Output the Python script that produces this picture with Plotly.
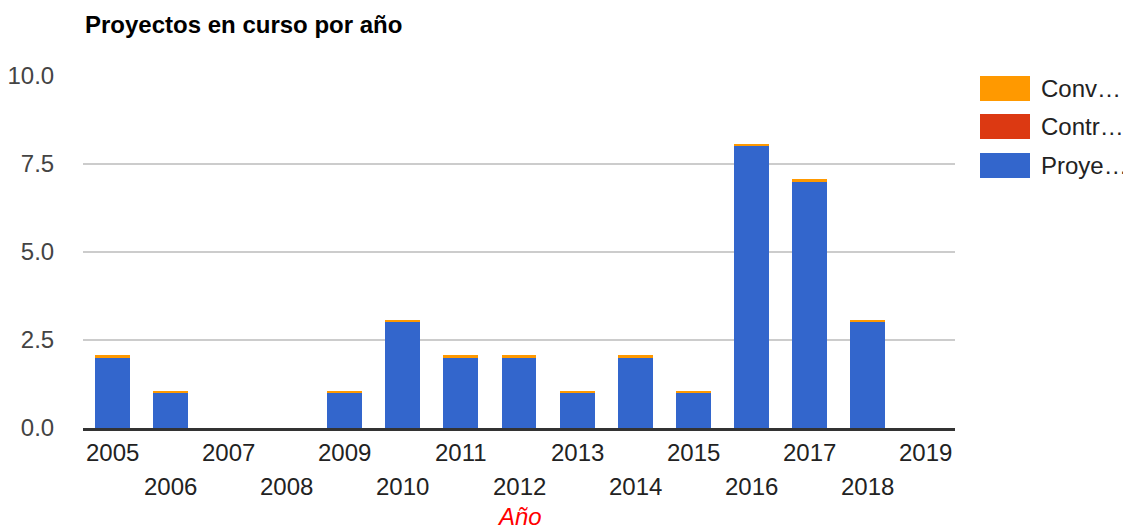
import plotly.graph_objects as go

years = [str(y) for y in range(2005, 2020)]
proyectos = [2, 1, 0, 0, 1, 3, 2, 2, 1, 2, 1, 8, 7, 3, 0]
contratos = [0] * 15
convenios = [0.06, 0.06, 0, 0, 0.06, 0.06, 0.06, 0.06, 0.06, 0.06, 0.06, 0.06, 0.06, 0.06, 0]
series_names = ["Proyectos", "Contratos", "Convenios"]
legend_labels = ["Conv…", "Contr…", "Proye…"]
colors = {"Proyectos": "#3366cc", "Contratos": "#dc3912", "Convenios": "#ff9900"}
y_ticks = [0, 2.5, 5, 7.5, 10]
y_tick_text = ["0.0", "2.5", "5.0", "7.5", "10.0"]

# page body has an 8px margin: work in page pixels, convert to figure pixels
OFF = 8
W, H = 1131 - OFF, 529 - OFF
L, R, T, B = 83 - OFF, 955 - OFF, 76 - OFF, 428 - OFF
FONT = "Liberation Sans, Arial, sans-serif"
FS = 24

fig = go.Figure()
for name, vals in zip(series_names, [proyectos, contratos, convenios]):
    fig.add_trace(go.Bar(x=years, y=vals, name=name, marker_color=colors[name],
                         marker_line_width=0))

fig.update_layout(
    width=W, height=H,
    barmode="stack", bargap=0.4,
    plot_bgcolor="white", paper_bgcolor="white",
    margin=dict(l=L, r=W - R, t=T, b=H - B, autoexpand=False),
    showlegend=False,
    font=dict(family=FONT, size=FS, color="#222222"),
    title=dict(text="<b>Proyectos en curso por año</b>", x=(85 - OFF) / W, xanchor="left",
               y=1 - (25 - OFF) / H, yanchor="middle", font=dict(size=FS, color="#000000")),
)
fig.update_yaxes(range=[0, 10], tickvals=y_ticks, ticktext=y_tick_text,
                 showgrid=True, gridcolor="#cccccc", gridwidth=2,
                 zeroline=False, ticks="outside", ticklen=23, tickcolor="rgba(0,0,0,0)",
                 tickfont=dict(size=FS, color="#444444"), showline=False)
fig.update_xaxes(type="category", range=[-0.5, len(years) - 0.5], showticklabels=False,
                 showline=True, linecolor="#333333", linewidth=3, ticks="")

# alternating two-row tick labels (page rows at y=452 and y=486)
for i, yr in enumerate(years):
    fig.add_annotation(x=i, xref="x", y=0, yref="paper", yanchor="middle",
                       yshift=-(452 - 428) if i % 2 == 0 else -(486 - 428),
                       text=yr, showarrow=False, font=dict(size=FS, color="#222222"))

# axis title
fig.add_annotation(x=0.5, xref="paper", y=0, yref="paper", yshift=-(516 - 428),
                   yanchor="middle", text="<i>Año</i>", showarrow=False,
                   font=dict(size=FS, color="#ff0000"))

# custom legend (page coordinates)
pw, ph = 955 - 83, 428 - 76
def px(x):
    return (x - 83) / pw
def py(y):
    return (428 - y) / ph
leg_names = ["Convenios", "Contratos", "Proyectos"]
leg_tops = [76, 114, 153]
for name, lab, top in zip(leg_names, legend_labels, leg_tops):
    fig.add_shape(type="rect", xref="paper", yref="paper",
                  x0=px(980), x1=px(1030), y0=py(top + 25), y1=py(top),
                  fillcolor=colors[name], line_width=0)
    fig.add_annotation(x=px(1039), xref="paper", y=py(top + 12.5), yref="paper",
                       xanchor="left", yanchor="middle", text=lab, showarrow=False,
                       font=dict(size=FS, color="#222222"))

fig.write_html("out.html")
